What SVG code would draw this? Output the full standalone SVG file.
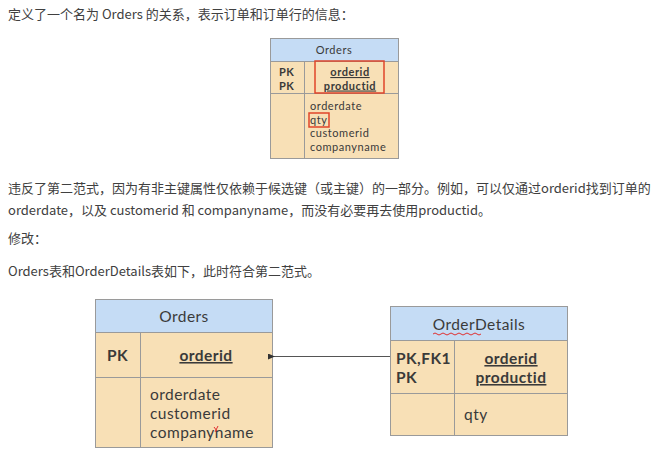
<svg xmlns="http://www.w3.org/2000/svg" width="660" height="452" viewBox="0 0 660 452">
<style>
.p{font-family:"Noto Sans CJK SC","Noto Sans",sans-serif;font-size:13px;fill:#404040}
.t{font-family:Lato,"Open Sans",sans-serif;fill:#3a3a3a}
.s{font-size:11px;letter-spacing:0.55px}
.g{font-size:15.5px;letter-spacing:0.45px}
.hd{fill:#c5dcf5;stroke:#9a9a9a;stroke-width:1}
.bd{fill:#f8e0b6;stroke:#9a9a9a;stroke-width:1}
.ln{stroke:#9a9a9a;stroke-width:1;fill:none}
.b{font-weight:bold}
.u{text-decoration:underline}
.red{fill:none;stroke:#e0452a;stroke-width:1.5}
</style>
<defs>
<marker id="ah" markerWidth="8" markerHeight="6" refX="1" refY="3" orient="auto" markerUnits="userSpaceOnUse">
<path d="M7,0 L0,3 L7,6 Z" fill="#333"/>
</marker>
</defs>
<rect width="660" height="452" fill="#ffffff"/>
<text class="p" x="8" y="19">定义了一个名为 Orders 的关系，表示订单和订单行的信息：</text>
<text class="p" x="8" y="193">违反了第二范式，因为有非主键属性仅依赖于候选键（或主键）的一部分。例如，可以仅通过orderid找到订单的</text>
<text class="p" x="8" y="215">orderdate，以及 customerid 和 companyname，而没有必要再去使用productid。</text>
<text class="p" x="8" y="243">修改：</text>
<text class="p" x="8" y="276">Orders表和OrderDetails表如下，此时符合第二范式。</text>

<g id="orders-old">
<rect class="bd" x="270.5" y="38.5" width="128" height="120"/>
<rect class="hd" x="270.5" y="38.5" width="128" height="23"/>
<line class="ln" x1="270.5" y1="93.5" x2="398.5" y2="93.5"/>
<line class="ln" x1="304.5" y1="61.5" x2="304.5" y2="158.5"/>
<text class="t s" x="334" y="54" text-anchor="middle">Orders</text>
<text class="t s b" x="279" y="76">PK</text>
<text class="t s b" x="279" y="89.5">PK</text>
<text class="t s b u" x="350" y="76" text-anchor="middle">orderid</text>
<text class="t s b u" x="350" y="89.5" text-anchor="middle">productid</text>
<text class="t s" x="310" y="110">orderdate</text>
<text class="t s" x="310" y="123.5">qty</text>
<text class="t s" x="310" y="137">customerid</text>
<text class="t s" x="310" y="150.5">companyname</text>
<rect class="red" x="315" y="61" width="69" height="32"/>
<rect class="red" x="309" y="113" width="20" height="14"/>
</g>

<g id="orders">
<rect class="bd" x="95.5" y="299.5" width="177" height="148"/>
<rect class="hd" x="95.5" y="299.5" width="177" height="33"/>
<line class="ln" x1="95.5" y1="377.5" x2="272.5" y2="377.5"/>
<line class="ln" x1="140.5" y1="332.5" x2="140.5" y2="447.5"/>
<text class="t g" x="184" y="322" text-anchor="middle">Orders</text>
<text class="t g b" x="107" y="361">PK</text>
<text class="t g b u" x="206" y="361" text-anchor="middle">orderid</text>
<text class="t g" x="150" y="400">orderdate</text>
<text class="t g" x="150" y="419">customerid</text>
<text class="t g" x="150" y="438">companyname</text>
<path d="M214,427 l3,4 M218,426 l-3,6" stroke="#e03030" stroke-width="1" fill="none"/>
</g>

<g id="orderdetails">
<rect class="bd" x="390.5" y="306.5" width="177" height="129"/>
<rect class="hd" x="390.5" y="306.5" width="177" height="34"/>
<line class="ln" x1="390.5" y1="393.5" x2="567.5" y2="393.5"/>
<line class="ln" x1="454.5" y1="340.5" x2="454.5" y2="435.5"/>
<text class="t g" x="479" y="330" text-anchor="middle">OrderDetails</text>
<path d="M433,334 q2,-2 4,0 t4,0 t4,0 t4,0 t4,0 t4,0 t4,0 t4,0 t4,0 t4,0 t4,0 t4,0" stroke="#e03030" stroke-width="1" fill="none"/>
<text class="t g b" x="396" y="364">PK,FK1</text>
<text class="t g b" x="396" y="383">PK</text>
<text class="t g b u" x="511" y="364" text-anchor="middle">orderid</text>
<text class="t g b u" x="511" y="383" text-anchor="middle">productid</text>
<text class="t g" x="464" y="420">qty</text>
</g>

<g id="connectors">
<line x1="390" y1="356.5" x2="274" y2="356.5" stroke="#555" stroke-width="1" marker-end="url(#ah)"/>
</g>
</svg>
